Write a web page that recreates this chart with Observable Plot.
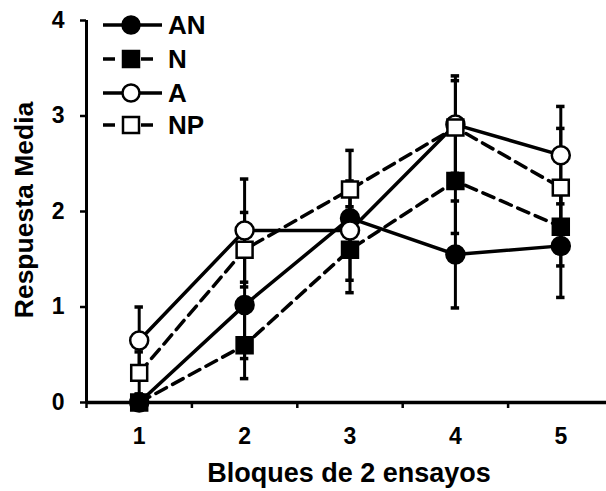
<!DOCTYPE html>
<html>
<head>
<meta charset="utf-8">
<script src="https://cdn.jsdelivr.net/npm/d3@7"></script>
<script src="https://cdn.jsdelivr.net/npm/@observablehq/plot@0.6"></script>
<style>
  html, body { margin: 0; padding: 0; background: #fff; overflow: hidden; }
  #wrap { position: relative; width: 606px; height: 491px; }
  #wrap svg { position: absolute; left: 0; top: 0; font-family: Arial, "Liberation Sans", sans-serif; }
</style>
</head>
<body>
<div id="wrap"></div>
<script>
// ---- data ----
const blocks = [1, 2, 3, 4, 5];
const seriesNames = ["AN", "N", "A", "NP"];
const meanAN = [0, 1.02, 1.93, 1.55, 1.64];
const errAN  = [0, 0.56, 0.35, 0.56, 0.54];
const meanN  = [0, 0.60, 1.60, 2.32, 1.84];
const errN   = [0, 0.35, 0.45, 0.55, 0.41];
const meanA  = [0.65, 1.80, 1.80, 2.91, 2.59];
const errA   = [0.35, 0.54, 0.52, 0.51, 0.51];
const meanNP = [0.31, 1.60, 2.23, 2.88, 2.25];
const errNP  = [0.22, 0.39, 0.41, 0.49, 0.62];
const yTicks = [0, 1, 2, 3, 4];
const xTitle = "Bloques de 2 ensayos";
const yTitle = "Respuesta Media";

// ---- styles per series ----
const style = {
  AN: {symbol: "circle", fill: "black", dash: null},
  N:  {symbol: "square", fill: "black", dash: "12,7"},
  A:  {symbol: "circle", fill: "white", dash: null},
  NP: {symbol: "square", fill: "white", dash: "12,7"}
};
const means = {AN: meanAN, N: meanN, A: meanA, NP: meanNP};
const errs = {AN: errAN, N: errN, A: errA, NP: errNP};

const rows = seriesNames.flatMap(s => blocks.map((b, i) => ({
  series: s, x: b, y: means[s][i], lo: means[s][i] - errs[s][i], hi: means[s][i] + errs[s][i]
})));
const cap = 0.04;
const withErr = rows.filter(d => d.hi > d.lo);

const marks = [];
// error bars
marks.push(Plot.ruleX(withErr, {x: "x", y1: "lo", y2: "hi", stroke: "black", strokeWidth: 3}));
marks.push(Plot.ruleY(withErr, {y: "hi", x1: d => d.x - cap, x2: d => d.x + cap, stroke: "black", strokeWidth: 3.5}));
marks.push(Plot.ruleY(withErr, {y: "lo", x1: d => d.x - cap, x2: d => d.x + cap, stroke: "black", strokeWidth: 3.5}));
// axis lines
marks.push(Plot.ruleX([0.5], {y1: 0, y2: 4, stroke: "black", strokeWidth: 3}));
marks.push(Plot.ruleY([0], {x1: 0.5, x2: 5.5, stroke: "black", strokeWidth: 3.5}));
// lines then markers
for (const s of seriesNames) {
  const data = rows.filter(d => d.series === s);
  marks.push(Plot.line(data, {x: "x", y: "y", stroke: "black", strokeWidth: 3.5, strokeDasharray: style[s].dash}));
}
for (const s of seriesNames) {
  const data = rows.filter(d => d.series === s);
  marks.push(Plot.dot(data, {x: "x", y: "y", r: 9, symbol: style[s].symbol, fill: style[s].fill, stroke: "black", strokeWidth: 2.5}));
}
// axes
marks.push(Plot.axisY({ticks: yTicks, tickSize: 6, tickPadding: 16, fontSize: 23, fontWeight: "bold", strokeWidth: 2.5, label: null, tickFormat: d => String(d)}));
marks.push(Plot.axisX({ticks: [0.5, 1.5, 2.5, 3.5, 4.5, 5.5], tickSize: 6, strokeWidth: 2.5, tickFormat: () => "", label: null}));
marks.push(Plot.axisX({ticks: blocks, tickSize: 0, tickPadding: 25, fontSize: 23, fontWeight: "bold", label: null, tickFormat: d => String(d)}));

const chart = Plot.plot({
  width: 606,
  height: 491,
  marginTop: 20,
  marginBottom: 89,
  marginLeft: 86,
  marginRight: 0,
  style: {background: "white", color: "black", fontFamily: "Arial, 'Liberation Sans', sans-serif", overflow: "hidden"},
  x: {domain: [0.5, 5.5], range: [86, 613]},
  y: {domain: [0, 4]},
  marks
});
document.getElementById("wrap").appendChild(chart);

// ---- overlay: titles and legend ----
const over = d3.select("#wrap").append("svg")
  .attr("width", 606).attr("height", 491)
  .style("pointer-events", "none");
over.append("text").attr("x", 349).attr("y", 482).attr("text-anchor", "middle")
  .attr("font-size", 27).attr("font-weight", "bold").attr("fill", "black").text(xTitle);
over.append("text").attr("transform", "translate(33,210) rotate(-90)").attr("text-anchor", "middle")
  .attr("font-size", 26.5).attr("font-weight", "bold").attr("fill", "black").text(yTitle);

const legY = [25, 59, 93, 125];
seriesNames.forEach((s, i) => {
  const g = over.append("g").attr("transform", `translate(0,${legY[i]})`);
  g.append("line").attr("x1", 103).attr("x2", style[s].dash ? 158 : 162).attr("y1", 0).attr("y2", 0)
    .attr("stroke", "black").attr("stroke-width", 3.5)
    .attr("stroke-dasharray", style[s].dash ? "12,7" : null);
  if (style[s].symbol === "circle") {
    g.append("circle").attr("cx", 131).attr("cy", 0).attr("r", 8.5)
      .attr("fill", style[s].fill).attr("stroke", "black").attr("stroke-width", 2.5);
  } else {
    g.append("rect").attr("x", 131 - 8).attr("y", -8).attr("width", 16).attr("height", 16)
      .attr("fill", style[s].fill).attr("stroke", "black").attr("stroke-width", 2.5);
  }
  g.append("text").attr("x", 168).attr("y", 0).attr("dy", "0.36em")
    .attr("font-size", 26).attr("font-weight", "bold").attr("fill", "black").text(s);
});
</script>
</body>
</html>
